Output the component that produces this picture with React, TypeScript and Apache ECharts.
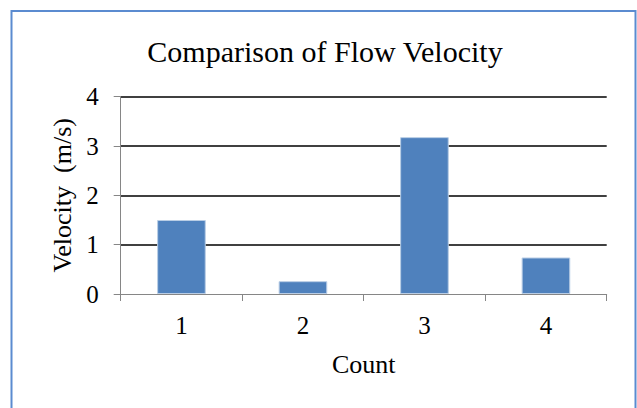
import React, { useEffect, useRef } from "react";
import * as echarts from "echarts";

const categories: string[] = ["1", "2", "3", "4"];
const velocities: number[] = [1.5, 0.26, 3.18, 0.74];
const titleText = "Comparison of Flow Velocity";
const xAxisName = "Count";
const yAxisName = "Velocity  (m/s)";

const FONT = "Liberation Serif";

export default function App() {
  const ref = useRef<HTMLDivElement>(null);
  useEffect(() => {
    if (!ref.current) return;
    const chart = echarts.init(ref.current, undefined, { renderer: "svg" });
    chart.setOption({
      animation: false,
      backgroundColor: "#ffffff",
      textStyle: { fontFamily: FONT },
      title: {
        text: titleText,
        left: 320,
        top: 31,
        textAlign: "center",
        textStyle: { fontFamily: FONT, fontSize: 30, fontWeight: "normal", color: "#000" },
      },
      graphic: [
        {
          type: "rect",
          shape: { x: 11.5, y: 11, width: 624, height: 420 },
          style: { fill: "none", stroke: "#5B8BD0", lineWidth: 2 },
          silent: true,
        },
      ],
      grid: { left: 120.7, right: 30.3, top: 96.7, bottom: 114 },
      xAxis: {
        type: "category",
        data: categories,
        name: xAxisName,
        nameLocation: "middle",
        nameGap: 57,
        nameTextStyle: { fontFamily: FONT, fontSize: 26, color: "#000" },
        axisLine: { show: true, lineStyle: { color: "#868686", width: 1 } },
        axisTick: { show: true, length: 7, alignWithLabel: false, lineStyle: { color: "#868686" } },
        axisLabel: { fontFamily: FONT, fontSize: 25, color: "#000", margin: 19 },
        splitLine: { show: false },
      },
      yAxis: {
        type: "value",
        min: 0,
        max: 4,
        interval: 1,
        name: yAxisName,
        nameLocation: "middle",
        nameGap: 45,
        nameRotate: 90,
        nameTextStyle: { fontFamily: FONT, fontSize: 26, color: "#000" },
        axisLine: { show: true, lineStyle: { color: "#868686", width: 1 } },
        axisTick: { show: true, length: 7, lineStyle: { color: "#868686" } },
        axisLabel: { fontFamily: FONT, fontSize: 25, color: "#000", margin: 22 },
        splitLine: { show: true, showMinLine: false, lineStyle: { color: "#000", width: 1.5 } },
      },
      series: [
        {
          type: "bar",
          data: velocities,
          barWidth: "40%",
          itemStyle: { color: "#4F81BD", borderColor: "#B9CDE5", borderWidth: 1 },
        },
      ],
    });
    return () => chart.dispose();
  }, []);
  return (
    <div
      ref={ref}
      style={{ position: "fixed", left: 0, top: 0, width: 637, height: 408 }}
    />
  );
}
